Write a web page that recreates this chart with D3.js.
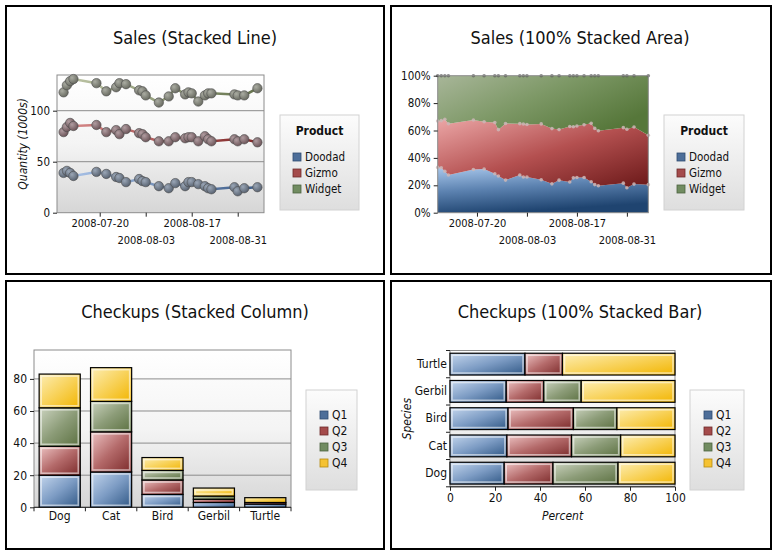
<!DOCTYPE html>
<html>
<head>
<meta charset="utf-8">
<script src="https://cdn.jsdelivr.net/npm/d3@7"></script>
<style>
body { margin: 0; background: #fff; }
svg { display: block; font-family: "DejaVu Sans Condensed", "DejaVu Sans", sans-serif; }
</style>
</head>
<body>
<svg id="chart" width="777" height="556"></svg>
<script>
// sales data
const salesDates = ["2008-07-09", "2008-07-10", "2008-07-11", "2008-07-12", "2008-07-19", "2008-07-22",
    "2008-07-25", "2008-07-26", "2008-07-28", "2008-08-01", "2008-08-02", "2008-08-03", "2008-08-07",
    "2008-08-10", "2008-08-12", "2008-08-15", "2008-08-16", "2008-08-17", "2008-08-19", "2008-08-21",
    "2008-08-22", "2008-08-23", "2008-08-30", "2008-08-31", "2008-09-02", "2008-09-06"];
const doodad = [39, 41, 39, 36, 40, 38, 35, 34, 30, 33, 31, 30, 26, 24, 29, 26, 30, 30, 28, 26, 24, 23, 25, 21, 24, 25];
const gizmo = [40, 43, 49, 49, 46, 41, 46, 43, 52, 45, 46, 44, 44, 46, 45, 47, 44, 44, 42, 49, 48, 47, 47, 49, 48, 44];
const widget = [39, 41, 41, 46, 41, 40, 42, 50, 44, 42, 42, 41, 38, 44, 48, 43, 44, 43, 39, 40, 45, 47, 44, 45, 43, 53];
const products = ["Doodad", "Gizmo", "Widget"];
const dateTicks = ["2008-07-20", "2008-08-03", "2008-08-17", "2008-08-31"];
const quantityTicks = [0, 50, 100];
const percentTicks = [0, 0.2, 0.4, 0.6, 0.8, 1];

// checkups data
const species = ["Dog", "Cat", "Bird", "Gerbil", "Turtle"];
const quarters = ["Q1", "Q2", "Q3", "Q4"];
const q1 = [20, 22, 8, 3, 2];
const q2 = [18, 25, 9, 2, 1];
const q3 = [24, 19, 6, 2, 0];
const q4 = [21, 21, 8, 5, 3];
const countTicks = [0, 20, 40, 60, 80];
const barTicks = [0, 20, 40, 60, 80, 100];

const svg = d3.select("#chart");
const defs = svg.append("defs");

const grad = (id, stops, x1, y1, x2, y2) => {
    const g = defs.append("linearGradient").attr("id", id)
        .attr("x1", x1).attr("y1", y1).attr("x2", x2).attr("y2", y2);
    stops.forEach((c, i) => g.append("stop").attr("offset", i / (stops.length - 1)).attr("stop-color", c));
};

grad("plotBg", ["#ffffff", "#f4f4f4", "#d6d6d6"], 0, 0, 0, 1);
grad("legendBg", ["#fcfcfc", "#dedede"], 0, 0, 0, 1);

const seriesColors = ["#4d6e99", "#a44b4b", "#718c61", "#f5c232"];
const seriesStrokes = ["#2f4c70", "#6e2a2a", "#4d6340", "#b58a10"];
const fillStops = [["#c5d7ee", "#7d9cc4", "#2f5785"], ["#eec4c4", "#b46a6a", "#7b2a2a"],
    ["#ccd4c0", "#8c9c78", "#5b7040"], ["#fdeeb4", "#f8d25a", "#f2b500"]];
fillStops.forEach((s, i) => grad("fill" + i, s, 0, 0, 1, 1));

grad("area0", ["#a9c8ec", "#5c82b0", "#1f4470"], 0, 0, 0.3, 1);
grad("area1", ["#eba6a6", "#b45050", "#6a1818"], 0, 0, 1, 1);
grad("area2", ["#a8b699", "#7d9866", "#56773a"], 0, 0, 1, 0.6);

const lineStops = [["#b0c9ee", "#3b5a85"], ["#dc8e8e", "#7d2626"], ["#c2c9aa", "#62704a"]];
lineStops.forEach((s, i) => {
    grad("line" + i, s, 57, 0, 264, 0);
    d3.select("#line" + i).attr("gradientUnits", "userSpaceOnUse");
});

const pointTints = [["#9aa6b6", "#56606e"], ["#b09ca0", "#6a5256"], ["#aaaca2", "#66685e"]];
pointTints.forEach((t, i) => {
    const g = defs.append("radialGradient").attr("id", "pt" + i)
        .attr("cx", "35%").attr("cy", "35%").attr("r", "70%");
    g.append("stop").attr("offset", 0).attr("stop-color", t[0]);
    g.append("stop").attr("offset", 1).attr("stop-color", t[1]);
});

// panel frames
const panels = [[6, 6], [391, 6], [6, 281], [391, 281]];
svg.selectAll(".panel").data(panels).join("rect")
    .attr("x", d => d[0]).attr("y", d => d[1])
    .attr("width", d => d[0] > 100 ? 380 : 378).attr("height", 268)
    .attr("fill", "none").attr("stroke", "#000").attr("stroke-width", 2);

const title = (x, y, text) => svg.append("text")
    .attr("x", x).attr("y", y).attr("text-anchor", "middle")
    .attr("font-size", 18).attr("fill", "#111").text(text);

const styleAxis = size => g => {
    g.select(".domain").remove();
    g.selectAll(".tick line").attr("stroke", "#222");
    g.selectAll(".tick text").attr("font-size", size).attr("fill", "#111")
        .attr("font-family", "\"DejaVu Sans Condensed\", \"DejaVu Sans\", sans-serif");
};

const legend = (x, y, w, h, heading, names, firstY, size) => {
    const g = svg.append("g");
    g.append("rect").attr("x", x).attr("y", y).attr("width", w).attr("height", h)
        .attr("fill", "url(#legendBg)").attr("stroke", "#d2d2d2");
    if (heading) {
        g.append("text").attr("x", x + w / 2).attr("y", y + 20).attr("text-anchor", "middle")
            .attr("font-size", 12).attr("font-weight", "bold").attr("fill", "#111").text(heading);
    }
    const item = g.selectAll(".item").data(names).join("g")
        .attr("transform", (d, i) => `translate(${x + (heading ? 13 : 14)},${firstY + i * 16})`);
    item.append("rect").attr("x", 0).attr("y", -8).attr("width", 8).attr("height", 8)
        .attr("fill", (d, i) => seriesColors[i]).attr("stroke", (d, i) => seriesStrokes[i]).attr("stroke-width", 0.8);
    item.append("text").attr("x", 12).attr("y", 0).attr("font-size", size).attr("fill", "#111").text(d => d);
};

const parse = d3.timeParse("%Y-%m-%d");
const salesRows = salesDates.map((d, i) => ({ date: parse(d), Doodad: doodad[i], Gizmo: gizmo[i], Widget: widget[i] }));

// ---------- Sales (Stacked Line) ----------
{
    const left = 57, right = 264, top = 75, bottom = 212.7;
    title(195, 44, "Sales (Stacked Line)");
    const x = d3.scaleTime().domain([parse("2008-07-07"), parse("2008-09-08")]).range([left, right]);
    const y = d3.scaleLinear().domain([0, 135]).range([bottom, top]);

    svg.append("rect").attr("x", left).attr("y", top).attr("width", right - left).attr("height", bottom - top)
        .attr("fill", "url(#plotBg)");
    svg.append("g").selectAll("line").data(quantityTicks.slice(1)).join("line")
        .attr("x1", left).attr("x2", right).attr("y1", d => y(d)).attr("y2", d => y(d))
        .attr("stroke", "#8c8c8c");
    svg.append("rect").attr("x", left).attr("y", top).attr("width", right - left).attr("height", bottom - top)
        .attr("fill", "none").attr("stroke", "#8c8c8c");

    const stacked = d3.stack().keys(products)(salesRows);
    const line = d3.line().x(d => x(d.data.date)).y(d => y(d[1]));
    svg.append("g").selectAll("path").data(stacked).join("path")
        .attr("d", line).attr("fill", "none")
        .attr("stroke", (d, i) => `url(#line${i})`).attr("stroke-width", 2.5);
    stacked.forEach((s, i) => {
        svg.append("g").selectAll("circle").data(s).join("circle")
            .attr("cx", d => x(d.data.date)).attr("cy", d => y(d[1])).attr("r", 4.7)
            .attr("fill", `url(#pt${i})`).attr("stroke", "#4c4c4c").attr("stroke-width", 0.6);
    });

    svg.append("g").attr("transform", `translate(${left},0)`)
        .call(d3.axisLeft(y).tickValues(quantityTicks).tickSize(4).tickPadding(3))
        .call(styleAxis(11.5));
    svg.append("g").attr("transform", `translate(0,${bottom})`)
        .call(d3.axisBottom(x).tickValues(dateTicks.map(parse)).tickSize(4).tickFormat(d3.timeFormat("%Y-%m-%d")))
        .call(styleAxis(11))
        .selectAll(".tick text").attr("y", (d, i) => i % 2 ? 24 : 7);

    svg.append("text").attr("transform", `translate(27,${(top + bottom) / 2}) rotate(-90)`)
        .attr("text-anchor", "middle").attr("font-size", 12).attr("font-style", "italic")
        .attr("fill", "#111").text("Quantity (1000s)");

    legend(280, 115, 79, 95, "Product", products, 161, 11.5);
}

// ---------- Sales (100% Stacked Area) ----------
{
    const left = 437.7, right = 648.3, top = 75.7, bottom = 212.7;
    title(580, 44, "Sales (100% Stacked Area)");
    const x = d3.scaleTime().domain(d3.extent(salesRows, d => d.date)).range([left, right]);
    const y = d3.scaleLinear().domain([0, 1]).range([bottom, top]);

    const stacked = d3.stack().keys(products).offset(d3.stackOffsetExpand)(salesRows);
    const area = d3.area().x(d => x(d.data.date)).y0(d => y(d[0])).y1(d => y(d[1]));
    svg.append("g").selectAll("path").data(stacked).join("path")
        .attr("d", area).attr("fill", (d, i) => `url(#area${i})`);
    stacked.forEach((s, i) => {
        svg.append("g").selectAll("circle").data(s).join("circle")
            .attr("cx", d => x(d.data.date)).attr("cy", d => y(d[1])).attr("r", 1.8)
            .attr("fill", i === 2 ? "#5a5a5a" : "#cdb6b6").attr("opacity", i === 2 ? 0.7 : 0.85);
    });
    svg.append("rect").attr("x", left).attr("y", top).attr("width", right - left).attr("height", bottom - top)
        .attr("fill", "none").attr("stroke", "#8c8c8c");

    svg.append("g").attr("transform", `translate(${left},0)`)
        .call(d3.axisLeft(y).tickValues(percentTicks).tickSize(4).tickPadding(3).tickFormat(d3.format(".0%")))
        .call(styleAxis(11.5));
    svg.append("g").attr("transform", `translate(0,${bottom})`)
        .call(d3.axisBottom(x).tickValues(dateTicks.map(parse)).tickSize(4).tickFormat(d3.timeFormat("%Y-%m-%d")))
        .call(styleAxis(11))
        .selectAll(".tick text").attr("y", (d, i) => i % 2 ? 24 : 7);

    legend(664, 115, 80, 95, "Product", products, 161, 11.5);
}

const checkRows = species.map((s, i) => ({ species: s, Q1: q1[i], Q2: q2[i], Q3: q3[i], Q4: q4[i] }));

const segment = (g, xPos, yPos, w, h, k) => {
    if (w <= 0 || h <= 0) return;
    g.append("rect").attr("x", xPos).attr("y", yPos).attr("width", w).attr("height", h)
        .attr("fill", `url(#fill${k})`).attr("stroke", "#000").attr("stroke-width", 1.2);
    if (w > 6 && h > 6) {
        g.append("rect").attr("x", xPos + 2).attr("y", yPos + 2).attr("width", w - 4).attr("height", h - 4)
            .attr("fill", "none").attr("stroke", "#fff").attr("stroke-opacity", 0.55).attr("stroke-width", 1.6);
    }
};

// ---------- Checkups (Stacked Column) ----------
{
    const left = 34, right = 291, top = 350, bottom = 507.3;
    title(195, 318, "Checkups (Stacked Column)");
    const x = d3.scaleBand().domain(species).range([left, right]).paddingInner(0.2).paddingOuter(0.1);
    const y = d3.scaleLinear().domain([0, 98]).range([bottom, top]);

    svg.append("rect").attr("x", left).attr("y", top).attr("width", right - left).attr("height", bottom - top)
        .attr("fill", "url(#plotBg)");
    svg.append("g").selectAll("line").data(countTicks.slice(1)).join("line")
        .attr("x1", left).attr("x2", right).attr("y1", d => y(d)).attr("y2", d => y(d))
        .attr("stroke", "#8c8c8c");
    svg.append("rect").attr("x", left).attr("y", top).attr("width", right - left).attr("height", bottom - top)
        .attr("fill", "none").attr("stroke", "#8c8c8c");

    const stacked = d3.stack().keys(quarters)(checkRows);
    const g = svg.append("g");
    stacked.forEach((s, k) => s.forEach(d =>
        segment(g, x(d.data.species), y(d[1]), x.bandwidth(), y(d[0]) - y(d[1]), k)));

    svg.append("g").attr("transform", `translate(${left},0)`)
        .call(d3.axisLeft(y).tickValues(countTicks).tickSize(4).tickPadding(3))
        .call(styleAxis(12));
    svg.append("g").attr("transform", `translate(0,${bottom})`)
        .call(d3.axisBottom(x).tickSize(0).tickPadding(4))
        .call(styleAxis(12));
    svg.append("line").attr("x1", left).attr("x2", right).attr("y1", bottom).attr("y2", bottom).attr("stroke", "#222");
    svg.append("g").selectAll("line").data(d3.range(species.length + 1)).join("line")
        .attr("x1", i => left + i * x.step()).attr("x2", i => left + i * x.step())
        .attr("y1", bottom).attr("y2", bottom + 4).attr("stroke", "#222");

    legend(306, 390, 51, 100, null, quarters, 419, 12);
}

// ---------- Checkups (100% Stacked Bar) ----------
{
    const left = 450, right = 675, top = 350.5, bottom = 486.8;
    title(580, 318, "Checkups (100% Stacked Bar)");
    const x = d3.scaleLinear().domain([0, 100]).range([left, right]);
    const y = d3.scaleBand().domain(species.slice().reverse()).range([top, bottom]).paddingInner(0.2).paddingOuter(0.1);

    svg.append("rect").attr("x", left).attr("y", top).attr("width", right - left).attr("height", bottom - top)
        .attr("fill", "url(#plotBg)").attr("stroke", "#8c8c8c");

    const stacked = d3.stack().keys(quarters).offset(d3.stackOffsetExpand)(checkRows);
    const g = svg.append("g");
    stacked.forEach((s, k) => s.forEach(d =>
        segment(g, x(d[0] * 100), y(d.data.species), x(d[1] * 100) - x(d[0] * 100), y.bandwidth(), k)));

    svg.append("g").attr("transform", `translate(${left},0)`)
        .call(d3.axisLeft(y).tickSize(0).tickPadding(3))
        .call(styleAxis(12));
    svg.append("g").selectAll("line").data(d3.range(species.length + 1)).join("line")
        .attr("x1", left - 4).attr("x2", left)
        .attr("y1", i => top + i * y.step()).attr("y2", i => top + i * y.step()).attr("stroke", "#222");
    svg.append("g").attr("transform", `translate(0,${bottom})`)
        .call(d3.axisBottom(x).tickValues(barTicks).tickSize(4).tickPadding(3))
        .call(styleAxis(12));
    svg.append("line").attr("x1", left).attr("x2", right).attr("y1", bottom).attr("y2", bottom).attr("stroke", "#222");

    svg.append("text").attr("transform", `translate(411,${(top + bottom) / 2}) rotate(-90)`)
        .attr("text-anchor", "middle").attr("font-size", 12).attr("font-style", "italic")
        .attr("fill", "#111").text("Species");
    svg.append("text").attr("x", (left + right) / 2).attr("y", 520)
        .attr("text-anchor", "middle").attr("font-size", 12).attr("font-style", "italic")
        .attr("fill", "#111").text("Percent");

    legend(690, 390, 54, 100, null, quarters, 419, 12);
}
</script>
</body>
</html>
